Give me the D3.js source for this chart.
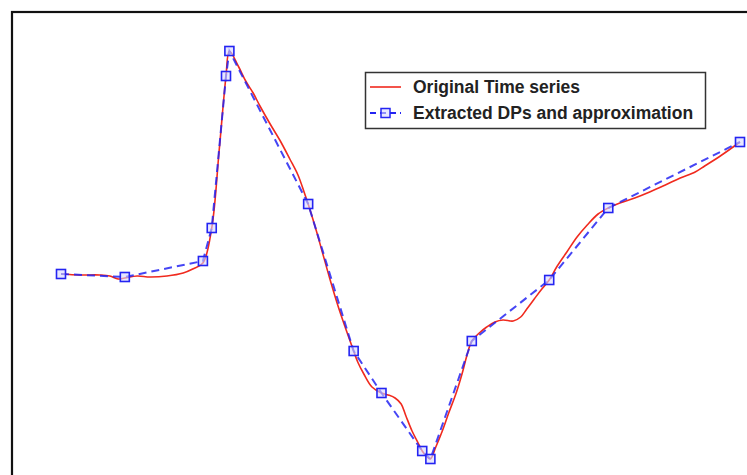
<!DOCTYPE html>
<html>
<head>
<meta charset="utf-8">
<script src="https://cdn.jsdelivr.net/npm/d3@7"></script>
<style>
  html, body { margin: 0; padding: 0; background: #fff; }
  svg { display: block; }
</style>
</head>
<body>
<svg id="chart" width="747" height="475"></svg>
<script>
// Original time series (sample index, value)
const seriesT = [0, 2.8, 5.7, 7.2, 8.4, 9.4, 11.2, 13.1, 15.6, 18.0, 19.4, 20.9, 22.2, 23.3, 24.3, 24.8,
  26.1, 27.2, 28.3, 29.3, 30.8, 32.3, 33.7, 34.9, 35.8, 36.4, 37.4, 38.4, 39.6, 40.8, 42.0, 43.1,
  43.7, 44.6, 45.8, 47.2, 48.2, 49.2, 50.1, 50.8, 51.7, 52.6, 53.2, 53.8, 54.4, 55.2, 56.1, 57.1,
  58.2, 59.1, 59.8, 60.5, 61.6, 62.7, 63.9, 65.1, 66.6, 67.7, 68.6, 69.7, 70.7, 71.9, 73.0, 74.5,
  76.0, 77.5, 79.1, 80.6, 82.3, 84.5, 86.7, 89.0, 91.2, 93.4, 94.8, 97.1, 100];
const seriesV = [0, -0.01, -0.01, -0.02, -0.05, -0.04, -0.02, -0.03, -0.02, 0.01, 0.05, 0.11, 0.46, 1.24, 1.98, 2.23,
  2.08, 1.93, 1.81, 1.68, 1.50, 1.33, 1.15, 0.99, 0.82, 0.70, 0.48, 0.24, -0.05, -0.32, -0.56, -0.77,
  -0.88, -1.00, -1.13, -1.19, -1.21, -1.24, -1.30, -1.42, -1.57, -1.69, -1.77, -1.82, -1.85, -1.73, -1.58, -1.39,
  -1.19, -0.99, -0.81, -0.67, -0.59, -0.53, -0.48, -0.46, -0.47, -0.43, -0.35, -0.25, -0.16, -0.06, 0.07, 0.22,
  0.37, 0.49, 0.60, 0.66, 0.71, 0.76, 0.82, 0.89, 0.96, 1.02, 1.08, 1.18, 1.32];

// Extracted dominant points (DPs)
const dpT = [0, 9.4, 20.9, 22.2, 24.3, 24.8, 36.4, 43.1, 47.2, 53.2, 54.4, 60.5, 71.9, 80.6, 100];
const dpV = [0, -0.03, 0.13, 0.46, 1.98, 2.23, 0.70, -0.77, -1.19, -1.77, -1.85, -0.67, -0.06, 0.66, 1.32];

const legendLabels = ["Original Time series", "Extracted DPs and approximation"];

const RED = "#f02a1e";
const BLUE = "#2424f2";

const svg = d3.select("#chart");

const x = d3.scaleLinear().domain([0, 100]).range([61, 740]);
const y = d3.scaleLinear().domain([-2, 2.5]).range([474, 24]);

// frame (axes box, extends beyond the visible area)
svg.append("rect")
  .attr("x", 12).attr("y", 12)
  .attr("width", 900).attr("height", 600)
  .attr("fill", "none").attr("stroke", "#111").attr("stroke-width", 2.2);

const series = seriesT.map((t, i) => ({ t, v: seriesV[i] }));
const dps = dpT.map((t, i) => ({ t, v: dpV[i] }));

// red original series
svg.append("path")
  .datum(series)
  .attr("fill", "none")
  .attr("stroke", RED)
  .attr("stroke-width", 1.6)
  .attr("d", d3.line().x(d => x(d.t)).y(d => y(d.v)).curve(d3.curveCatmullRom.alpha(0.5)));

// blue dashed approximation
svg.append("path")
  .datum(dps)
  .attr("fill", "none")
  .attr("stroke", BLUE)
  .attr("stroke-width", 2)
  .attr("stroke-dasharray", "8,5")
  .attr("opacity", 0.85)
  .attr("d", d3.line().x(d => x(d.t)).y(d => y(d.v)));

// DP markers
const sq = 9;
svg.append("g").selectAll("rect")
  .data(dps)
  .join("rect")
  .attr("x", d => x(d.t) - sq / 2)
  .attr("y", d => y(d.v) - sq / 2)
  .attr("width", sq).attr("height", sq)
  .attr("fill", "rgba(215,215,255,0.6)")
  .attr("stroke", BLUE)
  .attr("stroke-width", 1.6);

// legend
const lg = svg.append("g");
lg.append("rect")
  .attr("x", 365.5).attr("y", 72.5)
  .attr("width", 340).attr("height", 56)
  .attr("fill", "#fff").attr("stroke", "#333").attr("stroke-width", 1.5);

lg.append("line")
  .attr("x1", 370).attr("x2", 401).attr("y1", 87).attr("y2", 87)
  .attr("stroke", RED).attr("stroke-width", 1.6);
lg.append("line")
  .attr("x1", 370).attr("x2", 401).attr("y1", 113).attr("y2", 113)
  .attr("stroke", BLUE).attr("stroke-width", 1.8).attr("stroke-dasharray", "6,4");
lg.append("rect")
  .attr("x", 385.5 - sq / 2).attr("y", 113 - sq / 2)
  .attr("width", sq).attr("height", sq)
  .attr("fill", "rgba(215,215,255,0.6)").attr("stroke", BLUE).attr("stroke-width", 1.5);

lg.selectAll("text")
  .data(legendLabels)
  .join("text")
  .attr("x", 413)
  .attr("y", (d, i) => 93 + i * 26)
  .attr("font-family", "Liberation Sans, Arial, sans-serif")
  .attr("font-weight", "bold")
  .attr("font-size", 17.5)
  .attr("fill", "#222")
  .text(d => d);
</script>
</body>
</html>
